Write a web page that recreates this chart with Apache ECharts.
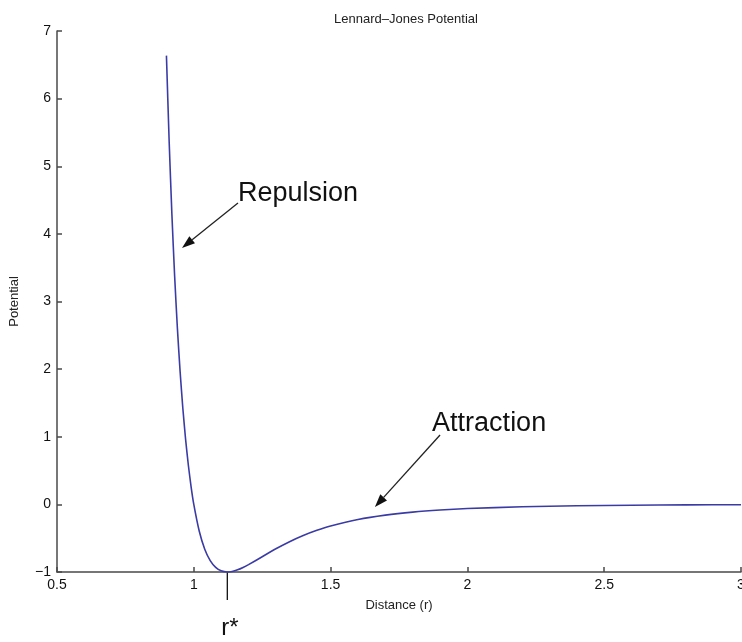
<!DOCTYPE html>
<html>
<head>
<meta charset="utf-8">
<title>Lennard-Jones Potential</title>
<script src="https://cdn.jsdelivr.net/npm/echarts@6/dist/echarts.min.js"></script>
<style>
  html, body { margin: 0; padding: 0; background: #fff; }
  #chart { width: 742px; height: 642px; }
</style>
</head>
<body>
<div id="chart"></div>
<script>
// Lennard-Jones potential, reduced units (epsilon = sigma = 1)
const distance = [0.90, 0.91, 0.92, 0.93, 0.94, 0.95, 0.96, 0.97, 0.98, 0.99, 1.00,
  1.02, 1.04, 1.06, 1.08, 1.10, 1.1225, 1.14, 1.16, 1.18, 1.20, 1.25, 1.30, 1.35,
  1.40, 1.45, 1.50, 1.60, 1.70, 1.80, 1.90, 2.00, 2.20, 2.40, 2.60, 2.80, 3.00];
const potential = [6.636, 5.360, 4.283, 3.373, 2.607, 1.961, 1.418, 0.963, 0.582, 0.264, 0.000,
  -0.398, -0.663, -0.832, -0.932, -0.983, -1.000, -0.992, -0.968, -0.933, -0.891, -0.774, -0.657, -0.552,
  -0.461, -0.384, -0.320, -0.224, -0.159, -0.114, -0.083, -0.062, -0.035, -0.021, -0.013, -0.008, -0.005];

const xTicks = [0.5, 1, 1.5, 2, 2.5, 3];
const yTicks = [-1, 0, 1, 2, 3, 4, 5, 6, 7];
const rStar = 1.1225;

const FONT = '"Liberation Sans", Arial, sans-serif';
const AXIS_COLOR = '#4a4a4a';
const CURVE_COLOR = '#3b3ba6';

const chart = echarts.init(document.getElementById('chart'), null, { renderer: 'canvas' });

chart.setOption({
  animation: false,
  backgroundColor: '#ffffff',
  title: {
    text: 'Lennard\u2013Jones Potential',
    left: 401, top: 8, textAlign: 'center',
    textStyle: { fontFamily: FONT, fontSize: 13, fontWeight: 'normal', color: '#222' }
  },
  grid: { left: 57, right: 1, top: 31, bottom: 70, containLabel: false, outerBoundsMode: 'none' },
  xAxis: {
    type: 'value',
    min: xTicks[0], max: xTicks[xTicks.length - 1], interval: 0.5,
    name: 'Distance (r)', nameLocation: 'middle', nameGap: 27,
    nameTextStyle: { fontFamily: FONT, fontSize: 13, color: '#222' },
    axisLine: { show: true, onZero: false, lineStyle: { color: AXIS_COLOR, width: 1.5 } },
    axisTick: { show: true, inside: true, length: 5, lineStyle: { color: AXIS_COLOR, width: 1.5 } },
    axisLabel: { fontFamily: FONT, fontSize: 14, color: '#111', margin: 6 },
    splitLine: { show: false }
  },
  yAxis: {
    type: 'value',
    min: yTicks[0], max: yTicks[yTicks.length - 1], interval: 1,
    name: 'Potential', nameLocation: 'middle', nameGap: 36, nameRotate: 90,
    nameTextStyle: { fontFamily: FONT, fontSize: 13, color: '#222' },
    axisLine: { show: true, onZero: false, lineStyle: { color: AXIS_COLOR, width: 1.5 } },
    axisTick: { show: true, inside: true, length: 5, lineStyle: { color: AXIS_COLOR, width: 1.5 } },
    axisLabel: {
      fontFamily: FONT, fontSize: 14, color: '#111', margin: 6,
      formatter: v => String(v).replace('-', '\u2212')
    },
    splitLine: { show: false }
  },
  series: [{
    type: 'line',
    data: distance.map((r, i) => [r, potential[i]]),
    showSymbol: false,
    smooth: 0.2,
    lineStyle: { color: CURVE_COLOR, width: 1.6 },
    clip: true
  }]
});

// Annotations placed in data space, converted to pixels
const notes = [
  { text: 'Repulsion', at: [1.1615, 4.59], from: [1.1615, 4.457], to: [0.957, 3.791] },
  { text: 'Attraction', at: [1.871, 1.188], from: [1.900, 1.026], to: [1.662, -0.039] }
];

function px(p) { return chart.convertToPixel({ gridIndex: 0 }, p); }

function arrow(a, b) {
  const dx = b[0] - a[0], dy = b[1] - a[1];
  const len = Math.hypot(dx, dy);
  const ux = dx / len, uy = dy / len;
  const head = 13, half = 4.5;
  const bx = b[0] - ux * head, by = b[1] - uy * head;
  return [
    { type: 'line', shape: { x1: a[0], y1: a[1], x2: bx, y2: by },
      style: { stroke: '#222', lineWidth: 1.3 } },
    { type: 'polygon',
      shape: { points: [[b[0], b[1]], [bx - uy * half, by + ux * half], [bx + uy * half, by - ux * half]] },
      style: { fill: '#111' } }
  ];
}

const elements = [];
notes.forEach(n => {
  const p = px(n.at);
  elements.push({
    type: 'text', x: p[0], y: p[1],
    style: { text: n.text, fontFamily: FONT, fontSize: 27, fill: '#111',
      align: 'left', verticalAlign: 'middle' }
  });
  elements.push(...arrow(px(n.from), px(n.to)));
});

// r* marker below the minimum
const base = px([rStar, -1]);
elements.push({
  type: 'line', shape: { x1: base[0], y1: base[1], x2: base[0], y2: base[1] + 28 },
  style: { stroke: '#111', lineWidth: 1.3 }
});
elements.push({
  type: 'text', x: base[0] - 6, y: base[1] + 68,
  style: { text: 'r*', fontFamily: FONT, fontSize: 24, fill: '#111',
    align: 'left', verticalAlign: 'bottom' }
});

chart.setOption({ graphic: { elements: elements } });
</script>
</body>
</html>
